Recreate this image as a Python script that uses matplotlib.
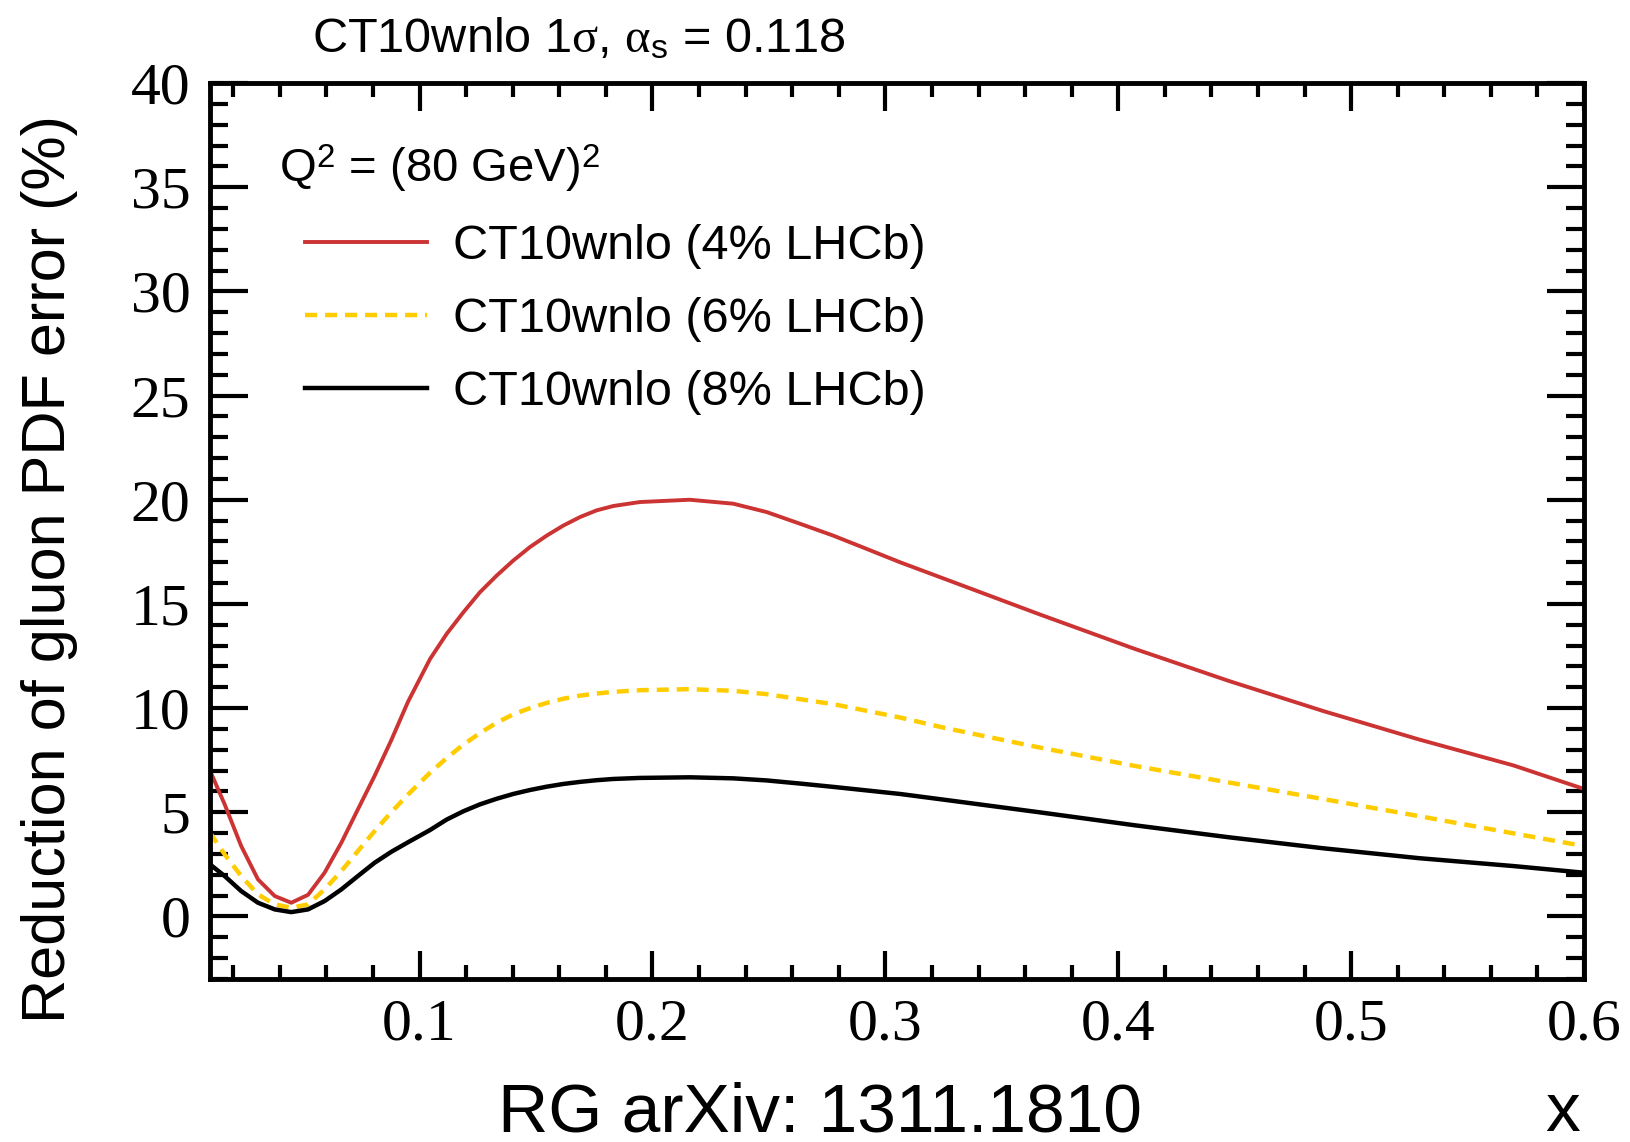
import matplotlib
matplotlib.use("Agg")
from matplotlib import pyplot as plt
from matplotlib.ticker import MultipleLocator

# values
x = [0.01, 0.0163, 0.0234, 0.0306, 0.0378, 0.0449, 0.0521, 0.0592, 0.0664, 0.0735,
     0.0807, 0.0878, 0.095, 0.1045, 0.1116, 0.1188, 0.1259, 0.1331, 0.1402, 0.1474,
     0.1546, 0.1617, 0.1689, 0.176, 0.1832, 0.1946, 0.216, 0.2347, 0.249, 0.2633,
     0.2776, 0.292, 0.3063, 0.3255, 0.3662, 0.4069, 0.4476, 0.4883, 0.529, 0.5697,
     0.6]

red_4pct = [7.0, 5.38, 3.38, 1.78, 0.98, 0.66, 1.04, 2.10, 3.54, 5.14,
            6.75, 8.45, 10.3, 12.36, 13.56, 14.6, 15.56, 16.36, 17.08, 17.73,
            18.28, 18.76, 19.17, 19.49, 19.70, 19.89, 20.0, 19.81, 19.41, 18.85,
            18.28, 17.64, 17.0, 16.2, 14.5, 12.85, 11.3, 9.85, 8.5, 7.25,
            6.12]

yellow_6pct = [4.02, 2.98, 1.94, 1.06, 0.58, 0.42, 0.58, 1.30, 2.18, 3.14,
               4.1, 5.0, 5.85, 6.9, 7.6, 8.25, 8.8, 9.3, 9.7, 10.0,
               10.25, 10.45, 10.6, 10.7, 10.78, 10.86, 10.91, 10.83, 10.67, 10.43,
               10.19, 9.87, 9.55, 9.05, 8.11, 7.23, 6.43, 5.63, 4.82, 3.99,
               3.38]

black_8pct = [2.5, 1.94, 1.22, 0.66, 0.34, 0.21, 0.34, 0.74, 1.30, 1.94,
              2.58, 3.1, 3.56, 4.15, 4.65, 5.05, 5.38, 5.65, 5.88, 6.07,
              6.23, 6.36, 6.46, 6.54, 6.6, 6.65, 6.68, 6.63, 6.53, 6.38,
              6.22, 6.05, 5.88, 5.6, 5.0, 4.38, 3.8, 3.27, 2.8, 2.42,
              2.1]

labels = ["CT10wnlo (4% LHCb)", "CT10wnlo (6% LHCb)", "CT10wnlo (8% LHCb)"]

plt.rcParams['font.family'] = ['Liberation Sans', 'DejaVu Sans']
plt.rcParams['mathtext.fontset'] = 'custom'
plt.rcParams['mathtext.rm'] = 'Liberation Serif'
plt.rcParams['mathtext.sf'] = 'Liberation Sans'
plt.rcParams['mathtext.it'] = 'Liberation Serif:italic'

fig = plt.figure(figsize=(16.3, 11.42), dpi=100)
ax = fig.add_axes([210/1630, 1-979/1142, (1584-210)/1630, (979-83)/1142])

ax.plot(x, red_4pct, color='#cc3333', lw=2.8, label=labels[0])
ax.plot(x, yellow_6pct, color='#ffcc00', lw=3.2, linestyle=(0, (2.7, 1.8)), label=labels[1])
ax.plot(x, black_8pct, color='black', lw=3.2, label=labels[2])

ax.set_xlim(0.01, 0.6)
ax.set_ylim(-3, 40)

ax.xaxis.set_major_locator(MultipleLocator(0.1))
ax.xaxis.set_minor_locator(MultipleLocator(0.02))
ax.yaxis.set_major_locator(MultipleLocator(5))
ax.yaxis.set_minor_locator(MultipleLocator(1))

for s in ax.spines.values():
    s.set_linewidth(3.5)
ax.tick_params(which='both', direction='in', top=True, right=True, width=3,
               labelsize=43, labelfontfamily='Liberation Serif')
ax.tick_params(axis='x', which='major', length=20, pad=14)
ax.tick_params(axis='x', which='minor', length=10)
ax.tick_params(axis='y', which='major', length=27, pad=14)
ax.tick_params(axis='y', which='minor', length=13)

leg = ax.legend(loc='upper left', bbox_to_anchor=(305/1630, 1-224/1142),
                bbox_transform=fig.transFigure, frameon=False, fontsize=35,
                handlelength=2.5, handletextpad=0.55, labelspacing=0.58,
                borderpad=0, borderaxespad=0)

fig.text(312/1630, 1-52/1142,
         r"CT10wnlo 1$\mathrm{\sigma}$, $\mathrm{\alpha}_{\mathsf{s}}$ = 0.118",
         fontsize=35, ha='left', va='baseline')
fig.text(279/1630, 1-182/1142, r"Q$^{\mathsf{2}}$ = (80 GeV)$^{\mathsf{2}}$",
         fontsize=34, ha='left', va='baseline')
fig.text(50/1630, 1-569/1142, "Reduction of gluon PDF error (%)",
         fontsize=44, rotation=90, ha='center', va='center')
fig.text(820/1630, 1-1131/1142, "RG arXiv: 1311.1810",
         fontsize=50, ha='center', va='baseline')
fig.text(1580/1630, 1-1131/1142, "x", fontsize=50, ha='right', va='baseline')

fig.savefig("out.png", dpi=100)
